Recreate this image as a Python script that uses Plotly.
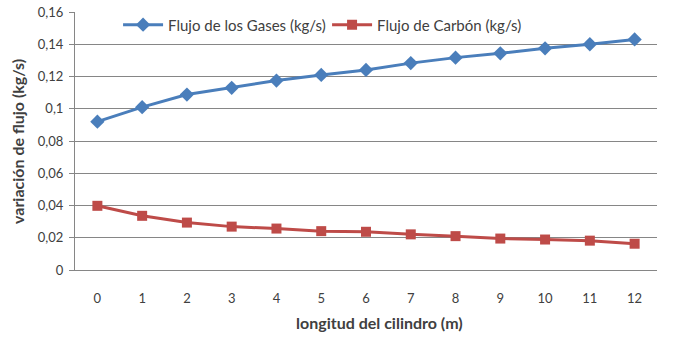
import plotly.graph_objects as go

categories = ["0", "1", "2", "3", "4", "5", "6", "7", "8", "9", "10", "11", "12"]
gases = [0.092, 0.101, 0.1088, 0.113, 0.1175, 0.121, 0.1241, 0.1283, 0.1317, 0.1344, 0.1375, 0.140, 0.143]
carbon = [0.0398, 0.0336, 0.0294, 0.0269, 0.0257, 0.0241, 0.0237, 0.0221, 0.021, 0.0195, 0.0189, 0.0182, 0.0163]
series_names = ["Flujo de los Gases (kg/s)", "Flujo de Carbón (kg/s)"]
y_ticks = [0, 0.02, 0.04, 0.06, 0.08, 0.1, 0.12, 0.14, 0.16]
y_ticktext = ["0", "0,02", "0,04", "0,06", "0,08", "0,1", "0,12", "0,14", "0,16"]
x_title = "longitud del cilindro (m)"
y_title = "variación de flujo (kg/s)"

FONT = "Lato, 'Open Sans', sans-serif"
TXT = "#404040"

fig = go.Figure()
fig.add_trace(go.Scatter(
    x=categories, y=gases, name=series_names[0], mode="lines+markers",
    line=dict(color="#4a7ebb", width=3),
    marker=dict(symbol="diamond", size=11, color="#4a7ebb"),
))
fig.add_trace(go.Scatter(
    x=categories, y=carbon, name=series_names[1], mode="lines+markers",
    line=dict(color="#be4b48", width=3),
    marker=dict(symbol="square", size=10, color="#be4b48"),
))

fig.update_layout(
    width=674, height=343,
    margin=dict(l=75, r=17, t=12, b=73, autoexpand=False),
    paper_bgcolor="white", plot_bgcolor="white",
    font=dict(family=FONT, size=13, color=TXT),
    showlegend=True,
    legend=dict(
        orientation="h", x=0.074, y=0.95, xanchor="left", yanchor="middle",
        bgcolor="rgba(0,0,0,0)", font=dict(family=FONT, size=15, color=TXT),
        itemwidth=40, tracegroupgap=0, entrywidth=154, entrywidthmode="pixels",
    ),
    annotations=[
        dict(text="<b>" + x_title + "</b>", xref="paper", yref="paper",
             x=0.524, y=-0.2016, xanchor="center", yanchor="middle", showarrow=False,
             font=dict(family=FONT, size=16, color=TXT)),
        dict(text="<b>" + y_title + "</b>", xref="paper", yref="paper",
             x=-0.0997, y=0.5, xanchor="center", yanchor="middle", showarrow=False,
             textangle=-90, font=dict(family=FONT, size=16, color=TXT)),
    ],
)
fig.update_xaxes(
    type="category", range=[-0.5, 12.5], automargin=False,
    showline=True, linecolor="#868686", linewidth=1,
    showgrid=False, ticks="", ticklabelstandoff=16,
    tickfont=dict(family=FONT, size=13, color=TXT),
)
fig.update_yaxes(
    range=[0, 0.16], tickvals=y_ticks, ticktext=y_ticktext, automargin=False,
    showline=True, linecolor="#868686", linewidth=1,
    showgrid=True, gridcolor="#868686", gridwidth=1,
    ticks="outside", ticklen=5, tickcolor="#868686", ticklabelstandoff=3,
    zeroline=False,
    tickfont=dict(family=FONT, size=13, color=TXT),
)

fig.write_html("out.html", config={"displayModeBar": False},
               post_script="document.body.style.margin='0';")
